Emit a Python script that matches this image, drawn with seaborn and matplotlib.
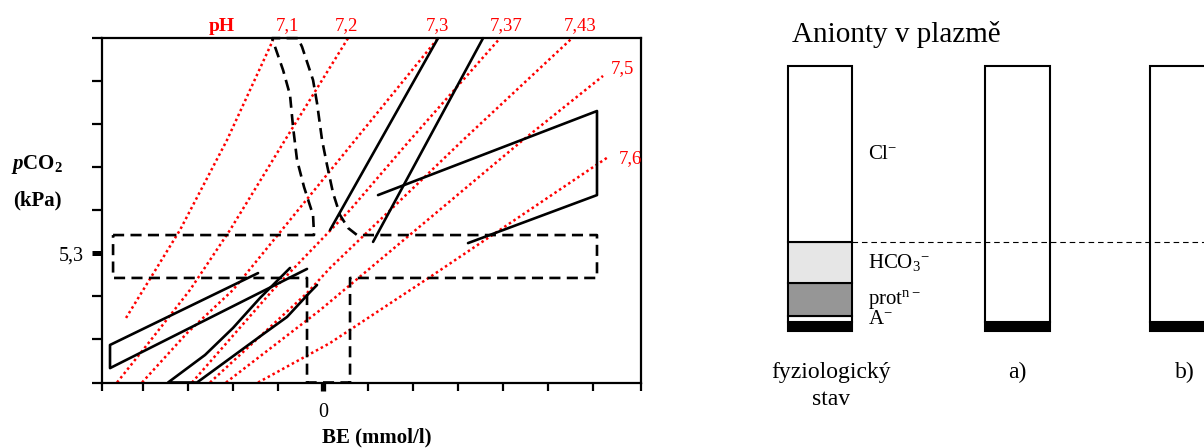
import matplotlib
matplotlib.use("Agg")
import matplotlib.pyplot as plt
import seaborn as sns

sns.set_theme(style="white")
plt.rcParams['font.family'] = ['Liberation Serif', 'DejaVu Serif']
plt.rcParams['text.color'] = 'black'
plt.rcParams['axes.labelcolor'] = 'black'
plt.rcParams['mathtext.fontset'] = 'custom'
plt.rcParams['mathtext.rm'] = 'Liberation Serif'
plt.rcParams['mathtext.it'] = 'Liberation Serif:italic'
plt.rcParams['mathtext.bf'] = 'Liberation Serif:bold'
plt.rcParams['mathtext.bfit'] = 'Liberation Serif:italic:bold'
plt.rcParams['mathtext.default'] = 'regular'

# ---------------- left chart data (BE mmol/l, pCO2 kPa) ----------------
ph_labels = ["7,1", "7,2", "7,3", "7,37", "7,43", "7,5", "7,6"]
ph71_be = [-21.89, -15.89, -10.67, -5.56]
ph71_pco2 = [2.65, 6.26, 9.95, 14.05]
ph72_be = [-22.89, -19.22, -14.78, -10.33, -4.22, 2.78]
ph72_pco2 = [0.0, 1.70, 3.80, 6.26, 9.95, 14.13]
ph73_be = [-20.11, -15.11, -10.0, 2.67, 12.78]
ph73_pco2 = [0.0, 2.03, 3.80, 9.54, 14.13]
ph737_be = [-14.56, -5.56, 3.0, 9.67, 19.67]
ph737_pco2 = [0.0, 3.80, 7.08, 9.95, 14.13]
ph743_be = [-12.56, -1.78, 0.78, 15.56, 27.67]
ph743_pco2 = [0.0, 3.67, 4.70, 9.95, 14.13]
ph75_be = [-10.78, -0.33, 22.22, 31.11]
ph75_pco2 = [0.0, 2.97, 9.95, 12.58]
ph76_be = [-7.22, 0.78, 11.89, 19.33, 31.67]
ph76_pco2 = [0.0, 1.62, 4.33, 6.18, 9.25]

# label anchor positions (BE, pCO2)
ph_label_be = [-4.0, 2.56, 12.67, 20.33, 28.56, 33.22, 34.11]
ph_label_pco2 = [14.44, 14.44, 14.44, 14.44, 14.44, 12.70, 9.0]

# solid black regions
resp_acid_left_be = [12.78, 0.78]
resp_acid_left_pco2 = [14.13, 6.26]
resp_acid_right_be = [17.78, 5.56]
resp_acid_right_pco2 = [14.13, 5.77]
met_alk_be = [6.11, 30.44, 30.44, 16.11]
met_alk_pco2 = [7.69, 11.14, 7.69, 5.72]
resp_alk_be = [-7.22, -23.67, -23.67, -1.78]
resp_alk_pco2 = [4.49, 1.54, 0.59, 4.66]
met_acid_be = [-3.67, -7.0, -10.0, -13.11, -17.22, -14.0, -6.78, -4.0, -1.44, -0.67]
met_acid_pco2 = [4.70, 3.47, 2.24, 1.13, 0.0, 0.0, 1.95, 2.69, 3.71, 4.0]

# dashed normal-range outline
norm_be = [-23.33, -1.0, -1.11, -2.11, -2.89, -3.33, -3.67, -4.44, -5.67,
           -2.78, -2.33, -1.11, -0.67, -0.11, 0.44, 1.11, 1.89, 2.78, 3.78,
           30.44, 30.44, 3.0, 3.0, -1.78, -1.78, -23.33, -23.33]
norm_pco2 = [6.05, 6.05, 6.87, 8.02, 9.13, 10.48, 11.80, 12.82, 14.13,
             14.13, 13.77, 12.41, 11.47, 9.95, 8.93, 7.78, 6.87, 6.34, 6.05,
             6.05, 4.29, 4.29, 0.0, 0.0, 4.29, 4.29, 6.05]

x_ticks = [-24.56, -20, -15, -10, -5, 0, 5, 10, 15, 20, 25, 30, 35.33]
x_tick_labels = ["", "", "", "", "", "0", "", "", "", "", "", "", ""]
y_ticks = [0, 1.767, 3.533, 5.3, 7.067, 8.833, 10.6, 12.367, 14.133]
y_tick_labels = ["", "", "", "5,3", "", "", "", "", ""]

# ---------------- right chart data (mmol/l) ----------------
bar_names = ["fyziologický\nstav", "a)", "b)"]
bar_pos = [0.0, 1.0, 1.833]
seg_names = ["base", "A", "prot", "HCO3", "Cl"]
seg_base = [5, 5, 5]
seg_A = [4, 0, 0]
seg_prot = [19, 0, 0]
seg_hco3 = [24, 0, 0]
seg_cl = [103, 150, 150]
seg_colors = ["black", "white", "#969696", "#e6e6e6", "white"]
seg_labels = [None, "A$^{-}$", "prot$^{n-}$", "HCO$_3{}^{-}$", "Cl$^{-}$"]

fig = plt.figure(figsize=(12.04, 4.48), dpi=100)

# ================= left chart =================
ax = fig.add_axes([102 / 1204, 65.5 / 448, 539 / 1204, 344.5 / 448])
ax.set_xlim(-24.56, 35.33)
ax.set_ylim(0, 14.136)

red_lines = [(ph71_be, ph71_pco2), (ph72_be, ph72_pco2), (ph73_be, ph73_pco2),
             (ph737_be, ph737_pco2), (ph743_be, ph743_pco2), (ph75_be, ph75_pco2),
             (ph76_be, ph76_pco2)]
for bx, py in red_lines:
    sns.lineplot(x=bx, y=py, sort=False, estimator=None, ax=ax, color="#ff0000",
                 linewidth=1.8, linestyle=(0, (1, 1.2)), clip_on=False, zorder=2)
for lab, lx, ly in zip(ph_labels, ph_label_be, ph_label_pco2):
    ax.text(lx, ly, lab, color="#ff0000", fontsize=13.5, ha="center", va="baseline",
            clip_on=False)
ax.text(-11.22, 14.44, "pH", color="#ff0000", fontsize=14, fontweight="bold",
        ha="center", va="baseline", clip_on=False)

solid = [(resp_acid_left_be, resp_acid_left_pco2), (resp_acid_right_be, resp_acid_right_pco2),
         (met_alk_be, met_alk_pco2), (resp_alk_be, resp_alk_pco2), (met_acid_be, met_acid_pco2)]
for bx, py in solid:
    sns.lineplot(x=bx, y=py, sort=False, estimator=None, ax=ax, color="black",
                 linewidth=1.9, clip_on=False, zorder=3)

sns.lineplot(x=norm_be, y=norm_pco2, sort=False, estimator=None, ax=ax, color="black",
             linewidth=1.9, linestyle=(0, (4.2, 2.4)), clip_on=False, zorder=3)

for s in ax.spines.values():
    s.set_visible(True)
    s.set_color("black")
    s.set_linewidth(1.6)

ax.set_xticks(x_ticks)
ax.set_xticklabels(x_tick_labels)
ax.set_yticks(y_ticks)
ax.set_yticklabels(y_tick_labels)
ax.tick_params(axis="x", direction="out", length=6, width=1.6, pad=9,
               labelsize=14.5, colors="black", bottom=True)
ax.tick_params(axis="y", direction="out", length=7.2, width=1.6, pad=6,
               labelsize=14.5, colors="black", left=True)
for t, v in zip(ax.xaxis.get_major_ticks(), x_ticks):
    if v == 0:
        t.tick1line.set_markeredgewidth(3.8)
for t, v in zip(ax.yaxis.get_major_ticks(), y_ticks):
    if v == 5.3:
        t.tick1line.set_markeredgewidth(3.6)
ax.set_xlabel("")
ax.set_ylabel("")
ax.grid(False)

fig.text(377 / 1204, 1 - 437 / 448, "BE (mmol/l)", fontsize=15, fontweight="bold",
         ha="center", va="center", color="black")
fig.text(37.5 / 1204, 1 - 165 / 448, r"$\mathbfit{p}\mathbf{CO}_{\mathbf{2}}$",
         fontsize=15, ha="center", va="center", color="black")
fig.text(37.5 / 1204, 1 - 200 / 448, "(kPa)", fontsize=15, fontweight="bold",
         ha="center", va="center", color="black")

# ================= right chart =================
ax2 = fig.add_axes([740 / 1204, 117 / 448, 464 / 1204, 273.5 / 448])
ax2.set_xlim(-0.405, 1.944)
ax2.set_ylim(0, 160)
ax2.axis("off")

bar_w = 0.325
segments = [seg_base, seg_A, seg_prot, seg_hco3, seg_cl]
bottoms = [0, 0, 0]
for name, vals, col, lab in zip(seg_names, segments, seg_colors, seg_labels):
    for i, v in enumerate(vals):
        if v > 0:
            ax2.bar(bar_pos[i], v, width=bar_w, bottom=bottoms[i], color=col,
                    edgecolor="black", linewidth=1.5, clip_on=False, zorder=2)
    if lab is not None:
        ax2.text(bar_pos[0] + bar_w / 2 + 0.08, bottoms[0] + vals[0] / 2, lab,
                 fontsize=15, ha="left", va="center", color="black")
    bottoms = [b + v for b, v in zip(bottoms, vals)]

line_y = seg_base[0] + seg_A[0] + seg_prot[0] + seg_hco3[0]
ax2.plot([bar_pos[0] + bar_w / 2, 1.944], [line_y, line_y], color="black",
         linewidth=0.8, linestyle=(0, (5, 3.5)), zorder=3, clip_on=False)

cat_label_x = [0.056, 1.0, 1.848]
for name, lx in zip(bar_names, cat_label_x):
    ax2.text(lx, -18.0, name, fontsize=17, ha="center", va="top", linespacing=1.4,
             color="black")

fig.text(792 / 1204, 1 - 42 / 448, "Anionty v plazmě", fontsize=21, ha="left",
         va="baseline", color="black")

fig.savefig("out.png", dpi=100)
